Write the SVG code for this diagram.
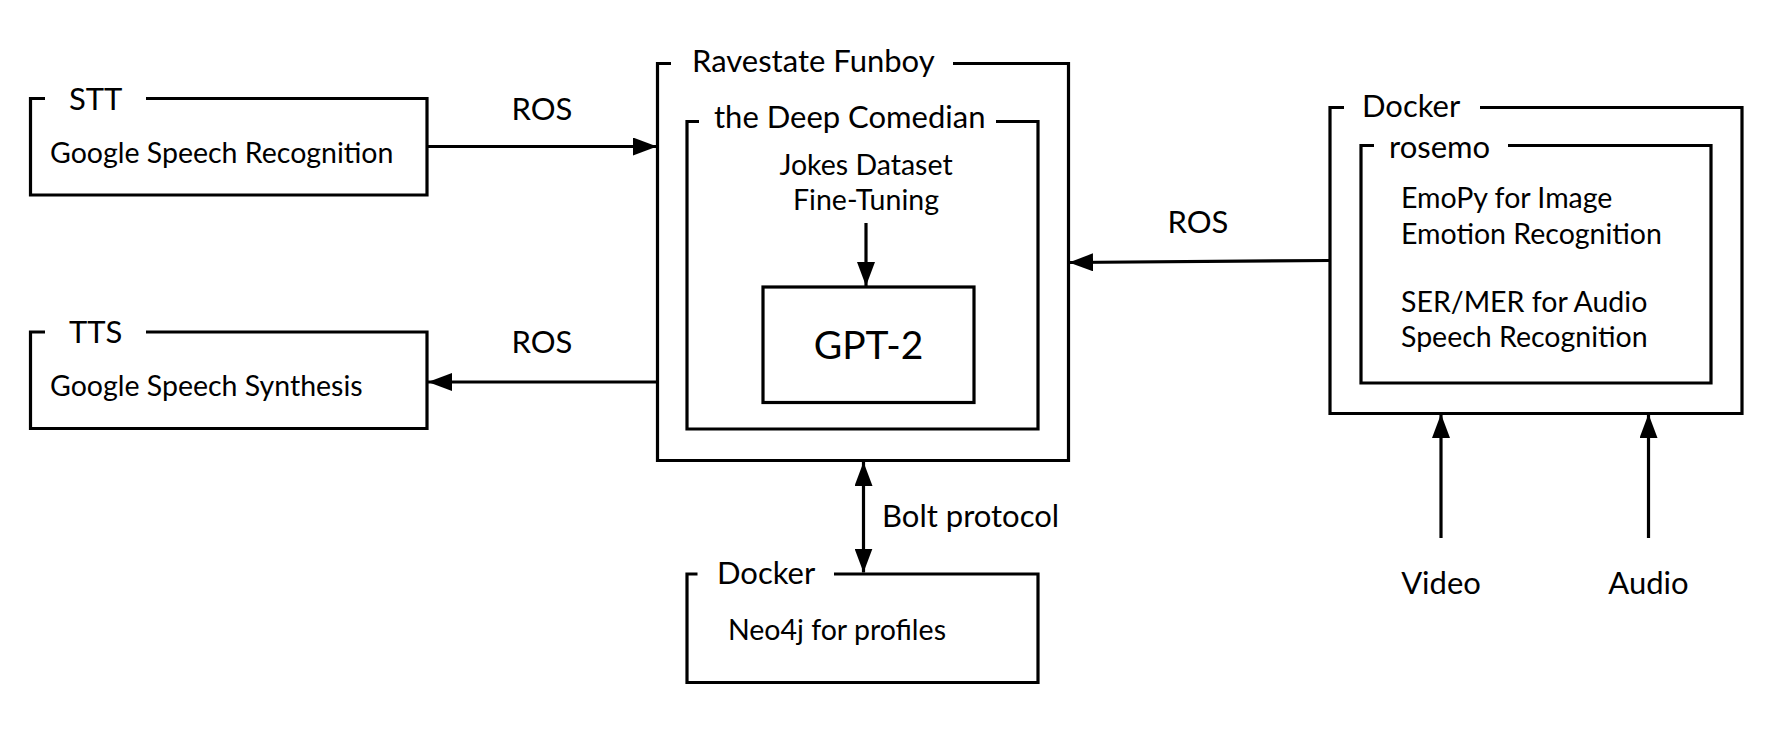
<svg xmlns="http://www.w3.org/2000/svg" width="1776" height="731" viewBox="0 0 1776 731">
<style>
.box{fill:none;stroke:#000;stroke-width:3.2;stroke-linejoin:miter}
.ln{fill:none;stroke:#000;stroke-width:3.2}
.t{font-family:Lato,"Noto Sans",sans-serif;fill:#000}
.tt{font-size:31px}
.tc{font-size:28.5px}
.tl{font-size:31px}
.m{text-anchor:middle}
</style>
<defs>
<marker id="ah" viewBox="0 0 24 18" refX="24" refY="9" markerWidth="24" markerHeight="18" markerUnits="userSpaceOnUse" orient="auto-start-reverse">
<path d="M0,0 L24,9 L0,18 Z" fill="#000"/>
</marker>
</defs>
<rect width="1776" height="731" fill="#fff"/>

<g id="stt">
<path class="box" d="M146,98.5 H427 V195 H30.5 V98.5 H45"/>
<text class="t tt" x="69" y="110">STT</text>
<text class="t tc" x="50" y="163">Google Speech Recognition</text>
</g>

<g id="tts">
<path class="box" d="M146,332 H427 V428.5 H30.5 V332 H45"/>
<text class="t tt" x="69" y="343">TTS</text>
<text class="t tc" x="50" y="396">Google Speech Synthesis</text>
</g>

<g id="ravestate">
<path class="box" d="M953,63.5 H1068.5 V460.5 H657.5 V63.5 H671"/>
<text class="t tt" x="692" y="72">Ravestate Funboy</text>
</g>

<g id="comedian">
<path class="box" d="M996,121.5 H1038 V429 H687 V121.5 H699"/>
<text class="t tt" x="714" y="128">the Deep Comedian</text>
<text class="t tc m" x="866" y="175">Jokes Dataset</text>
<text class="t tc m" x="866" y="210">Fine-Tuning</text>
</g>

<g id="gpt2">
<rect class="box" x="763" y="287" width="211" height="115.5"/>
<text class="t m" x="868.5" y="359" font-size="39">GPT-2</text>
</g>

<g id="docker-neo4j">
<path class="box" d="M834,574 H1038 V682.5 H687 V574 H697.5"/>
<text class="t tt" x="717" y="584">Docker</text>
<text class="t tc" x="728" y="640">Neo4j for profiles</text>
</g>

<g id="docker-rosemo">
<path class="box" d="M1480,107.5 H1742 V413.5 H1330 V107.5 H1344"/>
<text class="t tt" x="1362" y="117">Docker</text>
</g>

<g id="rosemo">
<path class="box" d="M1508,145.5 H1711 V383 H1361 V145.5 H1374"/>
<text class="t tt" x="1389" y="158">rosemo</text>
<text class="t tc" x="1401" y="208">EmoPy for Image</text>
<text class="t tc" x="1401" y="244">Emotion Recognition</text>
<text class="t tc" x="1401" y="312">SER/MER for Audio</text>
<text class="t tc" x="1401" y="347">Speech Recognition</text>
</g>

<g id="connectors">
<line class="ln" x1="427" y1="146.5" x2="657" y2="146.5" marker-end="url(#ah)"/>
<text class="t tl m" x="542" y="120">ROS</text>
<line class="ln" x1="657" y1="382" x2="428" y2="382" marker-end="url(#ah)"/>
<text class="t tl m" x="542" y="353">ROS</text>
<line class="ln" x1="1330" y1="260.5" x2="1069" y2="262.5" marker-end="url(#ah)"/>
<text class="t tl m" x="1198" y="233">ROS</text>
<line class="ln" x1="866" y1="223" x2="866" y2="286" marker-end="url(#ah)"/>
<line class="ln" x1="863.5" y1="462" x2="863.5" y2="572.5" marker-start="url(#ah)" marker-end="url(#ah)"/>
<text class="t tl" x="882" y="527">Bolt protocol</text>
<line class="ln" x1="1441" y1="538" x2="1441" y2="414" marker-end="url(#ah)"/>
<line class="ln" x1="1648.5" y1="538" x2="1648.5" y2="414" marker-end="url(#ah)"/>
<text class="t tl m" x="1441" y="594">Video</text>
<text class="t tl m" x="1648.5" y="594">Audio</text>
</g>
</svg>
